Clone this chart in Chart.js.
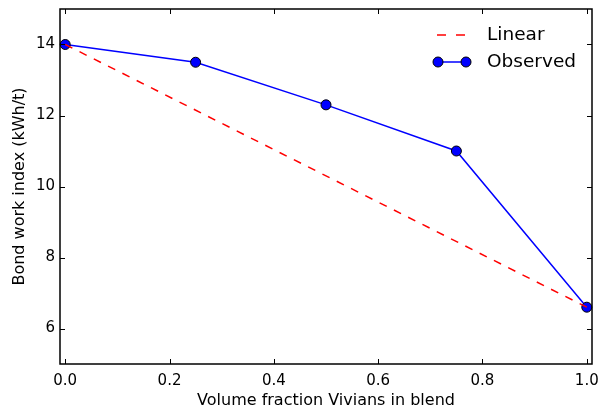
<!DOCTYPE html>
<html>
<head>
<meta charset="utf-8">
<script src="https://cdn.jsdelivr.net/npm/chart.js@4"></script>
<style>
  html, body { margin: 0; padding: 0; background: #fff; }
  #wrap { width: 600px; height: 412px; }
</style>
</head>
<body>
<div id="wrap"><canvas id="chart" width="600" height="412"></canvas></div>
<script>
// ----------------------------------------
// data
// ----------------------------------------
const blendFractions = [0, 0.25, 0.5, 0.75, 1.0];
const observedWork = [14.0, 13.5, 12.3, 11.0, 6.6];
const linearFractions = [0, 1.0];
const linearWork = [14.0, 6.6];

const xTicks = [0, 0.2, 0.4, 0.6, 0.8, 1.0];
const yTicks = [6, 8, 10, 12, 14];

const FONT = "'DejaVu Sans', sans-serif";

// frame + inward ticks on all four sides
const framePlugin = {
  id: "frame",
  afterDraw(chart) {
    const { ctx, chartArea: a, scales } = chart;
    const len = 5;
    ctx.save();
    ctx.strokeStyle = "#000";
    ctx.lineWidth = 1;
    ctx.beginPath();
    xTicks.forEach((v) => {
      const px = Math.round(scales.x.getPixelForValue(v)) + 0.5;
      ctx.moveTo(px, a.bottom); ctx.lineTo(px, a.bottom - len);
      ctx.moveTo(px, a.top); ctx.lineTo(px, a.top + len);
    });
    yTicks.forEach((v) => {
      const py = Math.round(scales.y.getPixelForValue(v)) + 0.5;
      ctx.moveTo(a.left, py); ctx.lineTo(a.left + len, py);
      ctx.moveTo(a.right, py); ctx.lineTo(a.right - len, py);
    });
    ctx.stroke();
    ctx.lineWidth = 1.5;
    ctx.strokeRect(a.left, a.top, a.right - a.left, a.bottom - a.top);
    ctx.restore();
  },
};

// legend without a box, line sample with markers at both ends
const legendPlugin = {
  id: "mplLegend",
  afterDraw(chart) {
    const { ctx } = chart;
    const x0 = 438, x1 = 466, tx = 487;
    ctx.save();
    ctx.font = "18.5px " + FONT;
    ctx.textBaseline = "middle";
    ctx.fillStyle = "#000";

    // Linear
    let y = 35;
    ctx.strokeStyle = "#ff0000";
    ctx.lineWidth = 1.5;
    ctx.setLineDash([9, 10]);
    ctx.beginPath(); ctx.moveTo(x0 - 1, y); ctx.lineTo(x1, y); ctx.stroke();
    ctx.setLineDash([]);
    ctx.fillText("Linear", tx, y);

    // Observed
    y = 62;
    ctx.strokeStyle = "#0000ff";
    ctx.beginPath(); ctx.moveTo(x0, y); ctx.lineTo(x1, y); ctx.stroke();
    [x0, x1].forEach((mx) => {
      ctx.beginPath();
      ctx.arc(mx, y, 5, 0, Math.PI * 2);
      ctx.fillStyle = "#0000ff";
      ctx.fill();
      ctx.strokeStyle = "#000";
      ctx.lineWidth = 1;
      ctx.stroke();
    });
    ctx.fillStyle = "#000";
    ctx.fillText("Observed", tx, y);
    ctx.restore();
  },
};

new Chart(document.getElementById("chart"), {
  type: "scatter",
  data: {
    datasets: [
      {
        label: "Linear",
        data: linearFractions.map((x, i) => ({ x, y: linearWork[i] })),
        showLine: true,
        borderColor: "#ff0000",
        borderWidth: 1.5,
        borderDash: [8, 8],
        pointRadius: 0,
        clip: false,
      },
      {
        label: "Observed",
        data: blendFractions.map((x, i) => ({ x, y: observedWork[i] })),
        showLine: true,
        borderColor: "#0000ff",
        borderWidth: 1.5,
        pointRadius: 5,
        pointBackgroundColor: "#0000ff",
        pointBorderColor: "#000",
        pointBorderWidth: 1,
        clip: false,
      },
    ],
  },
  options: {
    responsive: false,
    animation: false,
    devicePixelRatio: 1,
    layout: { padding: { left: 0, right: 8, top: 9, bottom: 0 } },
    plugins: { legend: { display: false }, tooltip: { enabled: false } },
    scales: {
      x: {
        type: "linear",
        min: -0.01,
        max: 1.01,
        afterBuildTicks: (s) => { s.ticks = xTicks.map((v) => ({ value: v })); },
        afterFit: (s) => {
          s.height = 48;
          s.paddingLeft = 0;
          s.paddingRight = 0;
        },
        grid: { display: false, drawTicks: false },
        border: { display: false },
        ticks: {
          padding: 8,
          color: "#000",
          font: { family: FONT, size: 15 },
          callback: (v) => Number(v).toFixed(1),
        },
        title: {
          display: true,
          text: "Volume fraction Vivians in blend",
          color: "#000",
          font: { family: FONT, size: 16 },
          padding: { top: 0, bottom: 2 },
        },
      },
      y: {
        type: "linear",
        min: 5,
        max: 15,
        afterBuildTicks: (s) => { s.ticks = yTicks.map((v) => ({ value: v })); },
        afterFit: (s) => {
          s.width = 60;
          s.paddingTop = 0;
          s.paddingBottom = 0;
        },
        grid: { display: false, drawTicks: false },
        border: { display: false },
        ticks: {
          padding: 5,
          color: "#000",
          font: { family: FONT, size: 15 },
        },
        title: {
          display: true,
          text: "Bond work index (kWh/t)",
          color: "#000",
          font: { family: FONT, size: 16 },
          padding: { top: 10, bottom: 0 },
        },
      },
    },
  },
  plugins: [framePlugin, legendPlugin],
});
</script>
</body>
</html>
